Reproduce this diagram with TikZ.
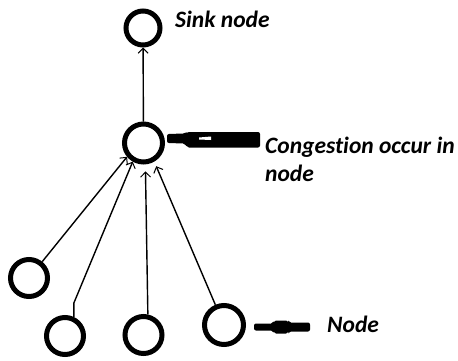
\documentclass[tikz,border=0pt]{standalone}
\usepackage{fontspec}
\setmainfont[Ligatures=NoCommon]{Carlito}
\usetikzlibrary{arrows.meta}
\begin{document}
\begin{tikzpicture}[x=1pt,y=-1pt,
  nd/.style={circle,draw,line width=5pt,minimum size=37pt,inner sep=0pt},
  link/.style={line width=1.4pt,-{Straight Barb[length=5pt,width=10pt,line width=1pt]}},
  lbl/.style={font=\fontsize{23.5}{28}\selectfont\bfseries\itshape,anchor=base west,inner sep=0pt},
  marker/.style={fill=black,rounded corners=2pt}]
\useasboundingbox (0,0) rectangle (458,360);
\fill[white] (0,0) rectangle (458,360);
% nodes
\node[nd,minimum size=34pt] (sink) at (143,28) {};
\node[nd,minimum size=38pt] (cong) at (143.5,143) {};
\node[nd] (a) at (29,278) {};
\node[nd] (b) at (65,336) {};
\node[nd] (c) at (143.5,335) {};
\node[nd,minimum size=39pt] (d) at (224,325) {};
% connectors
\draw[link] (cong) -- (sink);
\draw[link] (a) -- (cong.220);
\draw[link] (b.65) -- ++(0,-14) -- (cong.240);
\draw[link,shorten >=7pt] (c.78) -- (cong.275);
\draw[link,shorten >=5pt] (d) -- (cong.300);
% markers
\fill[marker] (167,134) -- (185,133.5) -- (187,132) -- (260,132) -- (260,147.5) -- (187,147.5) -- (185,143.5) -- (167,143) -- cycle;
\fill[white] (199,137.5) -- (211,136.5) -- (211,140) -- (199,139.5) -- cycle;
\fill[marker] (254,323.5) -- (273,323.5) -- (274,320.5) -- (288,320.5) -- (289,322.5) -- (310,322.5) -- (310,331.5) -- (289,331.5) -- (288,333.5) -- (274,333.5) -- (273,330.5) -- (254,330.5) -- cycle;
% labels
\node[lbl] (tsink) at (175,27) {Sink node};
\node[lbl] (tcong) at (265,153) {Congestion occur in};
\node[lbl] (tcong2) at (265,181) {node};
\node[lbl] (tnode) at (327,332) {Node};
\end{tikzpicture}
\end{document}
